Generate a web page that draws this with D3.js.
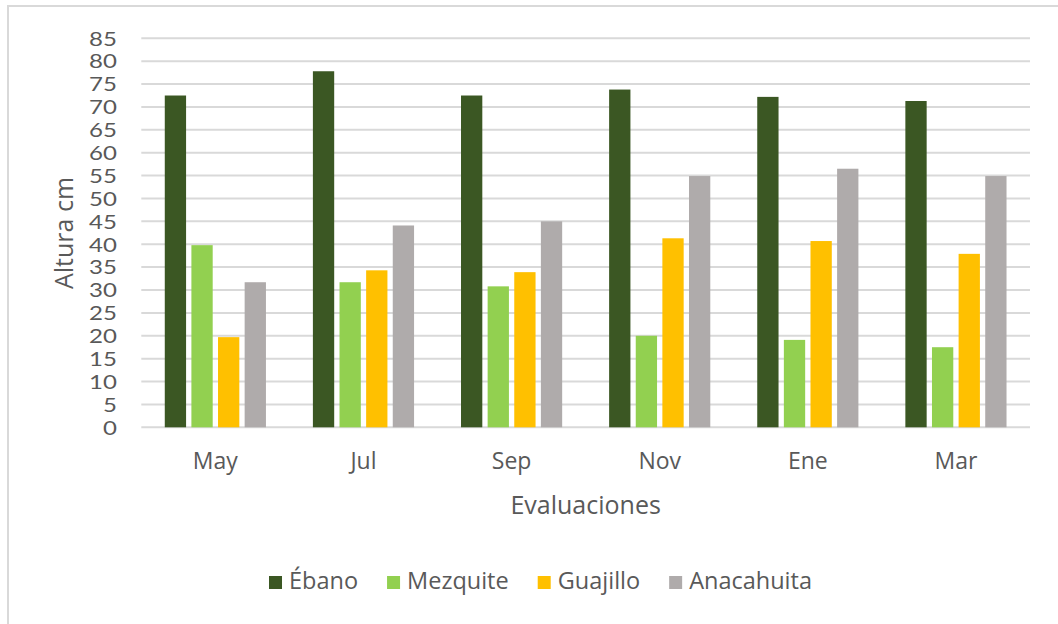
<!DOCTYPE html>
<html>
<head>
<meta charset="utf-8">
<script src="https://cdn.jsdelivr.net/npm/d3@7"></script>
<style>
  html, body { margin: 0; padding: 0; background: #fff; }
  svg { display: block; }
  text { font-family: "Open Sans", "Noto Sans", sans-serif; fill: #595959; }
</style>
</head>
<body>
<svg id="chart" width="1058" height="624"></svg>
<script>
// Evaluation months
const categories = ["May", "Jul", "Sep", "Nov", "Ene", "Mar"];
// Species
const seriesNames = ["Ébano", "Mezquite", "Guajillo", "Anacahuita"];
// Mean height (cm) per species per evaluation
const ebano      = [72.5, 77.8, 72.5, 73.8, 72.2, 71.3];
const mezquite   = [39.8, 31.7, 30.8, 20.0, 19.1, 17.5];
const guajillo   = [19.7, 34.3, 33.9, 41.3, 40.7, 37.9];
const anacahuita = [31.7, 44.1, 45.0, 54.9, 56.5, 54.9];
const seriesColors = ["#3b5723", "#92d050", "#ffc000", "#afabab"];
const yTicks = d3.range(0, 90, 5);

const seriesValues = [ebano, mezquite, guajillo, anacahuita];
const rows = categories.map((c, i) => ({
  cat: c,
  vals: seriesNames.map((s, j) => ({ s, v: seriesValues[j][i], color: seriesColors[j] }))
}));

const svg = d3.select("#chart");
const plot = { left: 141.3, right: 1030, top: 38.3, bottom: 427.3 };

// chart frame
svg.append("rect")
  .attr("x", 8).attr("y", 6).attr("width", 1070).attr("height", 640)
  .attr("fill", "#fff").attr("stroke", "#d9d9d9").attr("stroke-width", 2);

const x = d3.scaleBand().domain(categories).range([plot.left, plot.right]);
const gap = x.bandwidth() * 0.1585;
const xs = d3.scaleBand().domain(seriesNames)
  .range([gap, x.bandwidth() - gap]).paddingInner(0.2);
const y = d3.scaleLinear().domain([0, 85]).range([plot.bottom, plot.top]);

// horizontal gridlines
svg.append("g").selectAll("line").data(yTicks).join("line")
  .attr("x1", plot.left).attr("x2", plot.right)
  .attr("y1", d => y(d)).attr("y2", d => y(d))
  .attr("stroke", "#d9d9d9").attr("stroke-width", 2);

// y axis labels
const yAxis = d3.axisLeft(y).tickValues(yTicks).tickSize(0).tickPadding(0);
const gy = svg.append("g").attr("transform", `translate(117,0)`).call(yAxis);
gy.select(".domain").remove();
gy.selectAll("text")
  .style("font-family", 'Lato, sans-serif')
  .attr("font-size", 18.8).attr("fill", "#595959")
  .attr("dy", "0.36em")
  .attr("transform", "scale(1.28,1)");

// bars
const groups = svg.append("g").selectAll("g").data(rows).join("g")
  .attr("transform", d => `translate(${x(d.cat)},0)`);
groups.selectAll("rect").data(d => d.vals).join("rect")
  .attr("x", d => xs(d.s))
  .attr("width", xs.bandwidth())
  .attr("y", d => y(d.v))
  .attr("height", d => y(0) - y(d.v))
  .attr("fill", d => d.color);

// category labels
const xAxis = d3.axisBottom(x).tickSize(0).tickPadding(0);
const gx = svg.append("g").attr("transform", `translate(0,${plot.bottom})`).call(xAxis);
gx.select(".domain").remove();
gx.selectAll("text")
  .style("font-family", '"Open Sans", sans-serif')
  .attr("font-size", 23).attr("fill", "#595959")
  .attr("dy", 0).attr("y", 42);

// axis titles
svg.append("text")
  .attr("transform", `translate(73,233) rotate(-90)`)
  .attr("text-anchor", "middle")
  .attr("font-size", 25)
  .text("Altura cm");

svg.append("text")
  .attr("x", (plot.left + plot.right) / 2).attr("y", 514)
  .attr("text-anchor", "middle")
  .attr("font-size", 25)
  .text("Evaluaciones");

// legend
const legend = svg.append("g");
const items = legend.selectAll("g").data(seriesNames).join("g");
items.append("rect")
  .attr("width", 13).attr("height", 13).attr("y", -13)
  .attr("fill", (d, i) => seriesColors[i]);
items.append("text")
  .attr("x", 20).attr("y", 0)
  .attr("font-size", 23.5)
  .text(d => d);
let cursor = 0;
const offsets = [];
items.each(function() {
  offsets.push(cursor);
  const w = d3.select(this).select("text").node().getComputedTextLength();
  cursor += 20 + w + 29;
});
const total = cursor - 29;
const legendLeft = 540.5 - total / 2;
items.attr("transform", (d, i) => `translate(${offsets[i]},0)`);
legend.attr("transform", `translate(${legendLeft},589)`);
</script>
</body>
</html>
